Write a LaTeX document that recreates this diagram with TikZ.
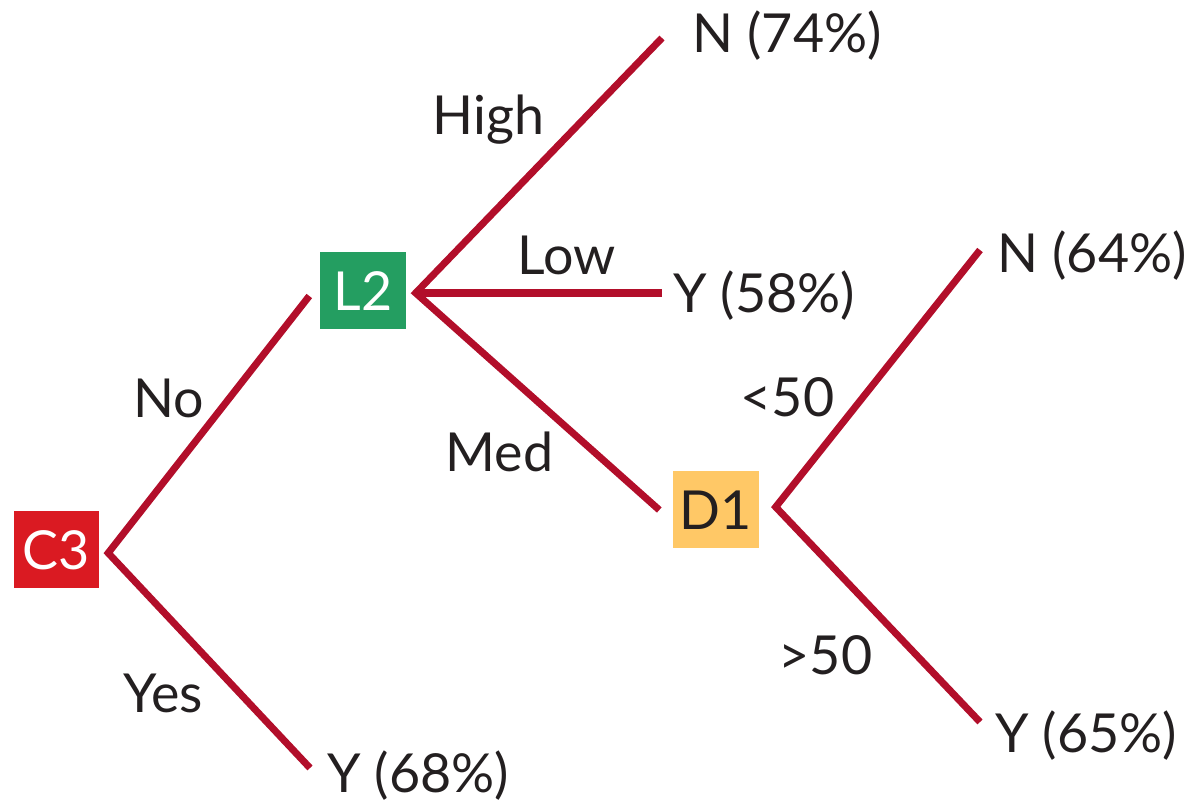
\documentclass[tikz,border=0pt]{standalone}
\usepackage{fontspec}
\setmainfont{Lato}
\usepackage{tikz}
\usetikzlibrary{positioning,calc}
\definecolor{branchred}{RGB}{178,14,42}
\definecolor{boxred}{RGB}{218,26,34}
\definecolor{boxgreen}{RGB}{36,158,97}
\definecolor{boxyellow}{RGB}{255,200,102}
\definecolor{inkdark}{RGB}{35,31,32}

\begin{document}
\begin{tikzpicture}[x=0.1mm,y=-0.1mm,
    every node/.style={font=\fontsize{15.3}{18}\selectfont,text=inkdark},
    split/.style={minimum width=8.6mm,minimum height=7.7mm,inner sep=0pt},
    leaf/.style={anchor=base west,inner sep=0pt},
    branch/.style={branchred,line width=2pt,line join=miter}]
  \useasboundingbox (0,0) rectangle (1190,802);
  % split nodes
  \node[split,fill=boxred,text=white] (c3) at (56.5,550) {C3};
  \node[split,fill=boxgreen,text=white] (l2) at (363,291) {L2};
  \node[split,fill=boxyellow] (d1) at (716,510) {D1};
  % outcomes
  \node[leaf] (n74) at (692,53) {N (74\%)};
  \node[leaf] (y58) at (673,313) {Y (58\%)};
  \node[leaf] (n64) at (997,273) {N (64\%)};
  \node[leaf] (y65) at (995,753) {Y (65\%)};
  \node[leaf] (y68) at (327,793) {Y (68\%)};
  % free ends of the branches
  \coordinate (n74end) at (662,38);
  \coordinate (y58end) at (662,293);
  \coordinate (n64end) at (980,250);
  \coordinate (y65end) at (980,722);
  \coordinate (y68end) at (310,768);
  % branches
  \draw[branch] ([shift={(-10,5)}]l2.west) -- ([shift={(8,3)}]c3.east) -- (y68end);
  \draw[branch] (n74end) -- ([shift={(9,2)}]l2.east) -- ([shift={(-13,0)}]d1.west);
  \draw[branch] ([shift={(9,2)}]l2.east) -- (y58end);
  \draw[branch] (n64end) -- ([shift={(16,-3)}]d1.east) -- (y65end);
  % branch labels
  \node[leaf] (no) at (133,418) {No};
  \node[leaf] (yes) at (123,713) {Yes};
  \node[leaf] (high) at (432,135) {High};
  \node[leaf] (low) at (517,275) {Low};
  \node[leaf] (med) at (445,472) {Med};
  \node[leaf] (lt50) at (740,417) {<50};
  \node[leaf] (gt50) at (778,675) {>50};
\end{tikzpicture}
\end{document}
